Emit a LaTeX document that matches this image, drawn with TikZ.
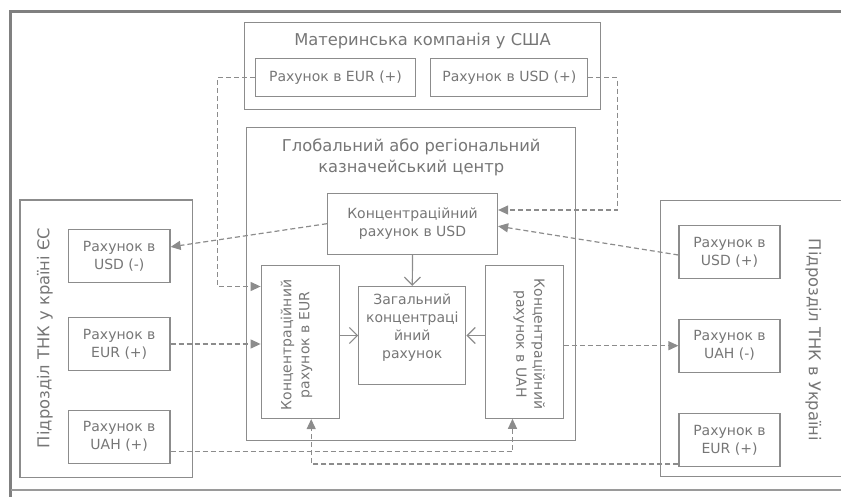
\documentclass[tikz,border=0pt]{standalone}
\usepackage{fontspec}
\setmainfont{DejaVu Sans}
\usetikzlibrary{arrows.meta, positioning}

\definecolor{linegray}{HTML}{8C8C8C}
\definecolor{textgray}{HTML}{767676}
\definecolor{framegray}{HTML}{808080}

\begin{document}
\begin{tikzpicture}[x=1pt, y=-1pt,
    box/.style={draw=linegray, line width=1.2pt, inner sep=0pt, text=textgray, align=center, font=\fontsize{14}{18}\selectfont},
    caption/.style={text=textgray, align=center, font=\fontsize{16.3}{21}\selectfont},
    link/.style={draw=linegray, line width=1.2pt, dash pattern=on 5pt off 3pt, -{Triangle[length=10pt,width=9pt]}},
    flow/.style={draw=linegray, line width=1.2pt, -{Straight Barb[length=8pt,width=16pt]}}]
    \useasboundingbox (0,0) rectangle (841,497);

    % Outer frame
    \draw[framegray, line width=2.5pt] (10.5,497) -- (10.5,11.5) -- (841,11.5);
    \draw[framegray!80, line width=1.2pt] (10.5,490) -- (841,490);

    % Parent company
    \node[box, minimum width=356pt, minimum height=87pt] (parent) at (422.5,65.8) {};
    \node[caption] (parenttitle) at (422.5,41) {Материнська компанія у США};
    \node[box, minimum width=160pt, minimum height=38pt] (eurm) at (335.5,77.7) {Рахунок в EUR (+)};
    \node[box, minimum width=157pt, minimum height=38pt] (usdm) at (509.3,77.7) {Рахунок в USD (+)};

    % Treasury centre
    \node[box, minimum width=329pt, minimum height=313pt] (centre) at (411.2,284) {};
    \node[caption] (centretitle) at (411.2,157.2) {Глобальний або регіональний\\казначейський центр};
    \node[box, minimum width=170pt, minimum height=61pt] (usdc) at (412.5,223.7) {Концентраційний\\рахунок в USD};
    \node[box, minimum width=107pt, minimum height=98pt] (gen) at (412.3,335.5) {};
    \node[box, draw=none] (gentext) at (412.3,327.5) {Загальний\\концентраці\\йний\\рахунок};
    \node[box, minimum width=78pt, minimum height=153pt] (eurc) at (300.2,342) {};
    \node[box, draw=none, rotate=90] (eurctext) at (296.5,345) {Концентраційний\\рахунок в EUR};
    \node[box, minimum width=78pt, minimum height=153pt] (uahc) at (524.2,341.7) {};
    \node[box, draw=none, rotate=-90] (uahctext) at (529.3,344) {Концентраційний\\рахунок в UAH};

    % Subsidiary in the EU
    \node[box, minimum width=172.5pt, minimum height=277.7pt] (eusub) at (106.2,338.8) {};
    \node[caption, rotate=90] (eusubtitle) at (45,338) {Підрозділ ТНК у країні ЄС};
    \foreach \name/\y/\cur in {eusd/255.9/USD (-), eeur/344/EUR (+), euah/436.7/UAH (+)}
        \node[box, minimum width=101.7pt, minimum height=53pt] (\name) at (119.2,\y) {Рахунок в\\\cur};

    % Subsidiary in Ukraine
    \draw[linegray, line width=1.2pt] (841,200.7) -| (660.7,476.7) -- (841,476.7);
    \node[caption, rotate=-90] (uasubtitle) at (813.3,340) {Підрозділ ТНК в Україні};
    \foreach \name/\y/\cur in {usdp/252/USD (+), uahp/345.7/UAH (-), eurp/440/EUR (+)}
        \node[box, minimum width=101pt, minimum height=53pt] (\name) at (729.5,\y) {Рахунок в\\\cur};

    % Flows into the general account
    \draw[flow] (usdc.south) -- (gen.north);
    \draw[flow] (eurc.east |- gen.west) -- (gen.west);
    \draw[flow] (uahc.west |- gen.east) -- (gen.east);

    % Dashed links between accounts
    \draw[link] (eurm.west) -- ++(-37.5,0) |- ([yshift=55.5pt]eurc.west);
    \draw[link] (usdm.east) -- ++(29,0) |- ([yshift=13.7pt]usdc.east);
    \draw[link] (usdc.west) -- ([yshift=9pt]eusd.east);
    \draw[link] ([yshift=-3pt]usdp.west) -- ([yshift=-2.5pt]usdc.east);
    \draw[link] (eeur.east) -- (eurc.west |- eeur.east);
    \draw[link] (uahc.east |- uahp.west) -- (uahp.west);
    \draw[link] ([yshift=-15pt]euah.east) -| ([xshift=-11.7pt]uahc.south);
    \draw[link] ([yshift=-24pt]eurp.west) -| ([xshift=11pt]eurc.south);
\end{tikzpicture}
\end{document}
